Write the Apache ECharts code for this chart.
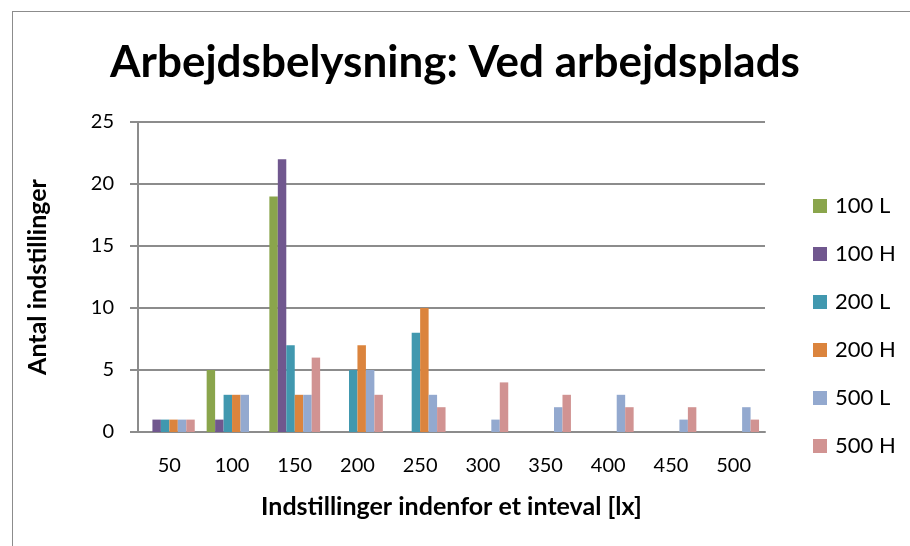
<!DOCTYPE html>
<html>
<head>
<meta charset="utf-8">
<script src="https://cdn.jsdelivr.net/npm/echarts@6/dist/echarts.min.js"></script>
<style>
  html, body { margin: 0; padding: 0; background: #fff; }
  #frame { position: absolute; left: 12px; top: 11px; width: 920px; height: 560px; border: 1.5px solid #8c8c8c; }
  #chart { position: absolute; left: 0; top: 0; width: 910px; height: 546px; }
</style>
</head>
<body>
<div id="frame"></div>
<div id="chart"></div>
<script>
// kategorier (lx interval)
var categories = ['50', '100', '150', '200', '250', '300', '350', '400', '450', '500'];
var seriesNames = ['100 L', '100 H', '200 L', '200 H', '500 L', '500 H'];
var colors = ['#8aa54c', '#70578e', '#4198af', '#db843d', '#93a9cf', '#d19392'];

var v100L = [0, 5, 19, 0, 0, 0, 0, 0, 0, 0];
var v100H = [1, 1, 22, 0, 0, 0, 0, 0, 0, 0];
var v200L = [1, 3, 7, 5, 8, 0, 0, 0, 0, 0];
var v200H = [1, 3, 3, 7, 10, 0, 0, 0, 0, 0];
var v500L = [1, 3, 3, 5, 3, 1, 2, 3, 1, 2];
var v500H = [1, 0, 6, 3, 2, 4, 3, 2, 2, 1];

var allValues = [v100L, v100H, v200L, v200H, v500L, v500H];
var font = 'Lato, "Open Sans", sans-serif';

var myChart = echarts.init(document.getElementById('chart'));

var series = [];
seriesNames.forEach(function (name, i) {
    series.push({
        name: name,
        type: 'bar',
        data: allValues[i],
        barGap: '0%',
        barCategoryGap: '19%',
        itemStyle: { color: colors[i] }
    });
});

var option = {
    animation: false,
    color: colors,
    title: {
        text: 'Arbejdsbelysning: Ved arbejdsplads',
        left: 'center',
        top: 36,
        textStyle: { fontFamily: font, fontSize: 44, fontWeight: 'bold', color: '#000' }
    },
    legend: {
        orient: 'vertical',
        left: 808,
        top: 190,
        itemWidth: 14,
        itemHeight: 14,
        itemGap: 26,
        icon: 'rect',
        textStyle: { fontFamily: font, fontSize: 22, color: '#000', padding: [0, 0, 0, 3] },
        data: seriesNames
    },
    grid: { left: 138, top: 122, right: 145, bottom: 114 },
    xAxis: {
        type: 'category',
        data: categories,
        name: 'Indstillinger indenfor et inteval [lx]',
        nameLocation: 'middle',
        nameGap: 62,
        nameTextStyle: { fontFamily: font, fontSize: 25, fontWeight: 'bold', color: '#000' },
        axisLine: { lineStyle: { color: '#8c8c8c', width: 2 } },
        axisTick: { show: false },
        axisLabel: { fontFamily: font, fontSize: 20, color: '#000', margin: 24 }
    },
    yAxis: {
        type: 'value',
        min: 0,
        max: 25,
        interval: 5,
        name: 'Antal indstillinger',
        nameLocation: 'middle',
        nameGap: 88,
        nameTextStyle: { fontFamily: font, fontSize: 25, fontWeight: 'bold', color: '#000' },
        axisLine: { show: true, lineStyle: { color: '#8c8c8c', width: 2 } },
        axisTick: { show: true, length: 8, lineStyle: { color: '#8c8c8c', width: 2 } },
        splitLine: { lineStyle: { color: '#8c8c8c', width: 2 } },
        axisLabel: { fontFamily: font, fontSize: 20, color: '#000', margin: 24 }
    },
    series: series
};

myChart.setOption(option);
</script>
</body>
</html>
